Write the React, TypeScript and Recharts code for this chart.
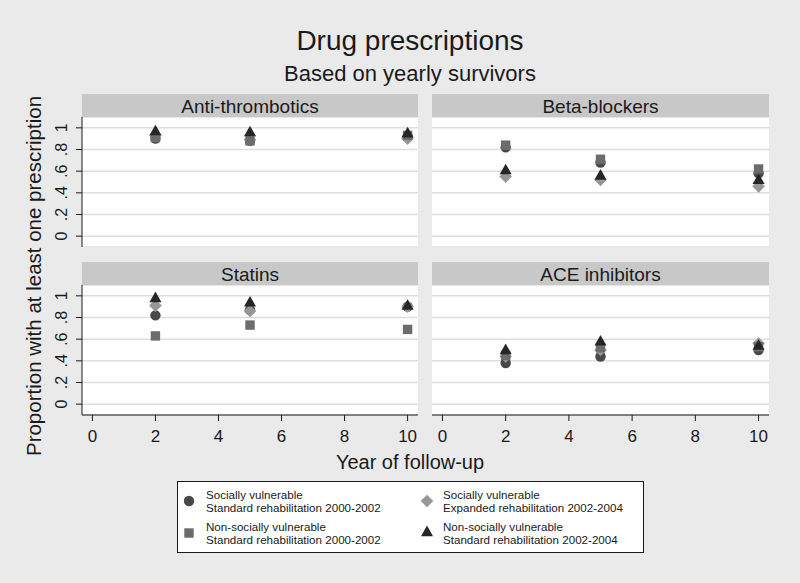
import React from "react";
import { ScatterChart, Scatter, XAxis, YAxis, CartesianGrid } from "recharts";

const YEARS = [2, 5, 10];

// order of each panel row: SV std 2000-02 (circle), NSV std 2000-02 (square),
// SV expanded 2002-04 (diamond), NSV std 2002-04 (triangle)
const antiThrombotics = [
  [0.9, 0.88, 0.92],
  [0.91, 0.88, 0.93],
  [0.93, 0.89, 0.9],
  [0.97, 0.96, 0.95],
];
const betaBlockers = [
  [0.82, 0.68, 0.58],
  [0.84, 0.71, 0.62],
  [0.55, 0.52, 0.46],
  [0.61, 0.56, 0.52],
];
const statins = [
  [0.82, 0.87, 0.9],
  [0.63, 0.73, 0.69],
  [0.91, 0.86, 0.9],
  [0.98, 0.94, 0.91],
];
const aceInhibitors = [
  [0.38, 0.44, 0.5],
  [0.45, 0.52, 0.53],
  [0.44, 0.5, 0.56],
  [0.5, 0.58, 0.54],
];

const X_TICKS = [0, 2, 4, 6, 8, 10];
const Y_TICKS = [0, 0.2, 0.4, 0.6, 0.8, 1];

const GROUPS = [
  { kind: "circle", color: "#484848", l1: "Socially vulnerable", l2: "Standard rehabilitation 2000-2002" },
  { kind: "square", color: "#6c6c6c", l1: "Non-socially vulnerable", l2: "Standard rehabilitation 2000-2002" },
  { kind: "diamond", color: "#979797", l1: "Socially vulnerable", l2: "Expanded rehabilitation 2002-2004" },
  { kind: "triangle", color: "#262626", l1: "Non-socially vulnerable", l2: "Standard rehabilitation 2002-2004" },
];
const DRAW_ORDER = [0, 2, 1, 3];

const FONT = "'Liberation Sans', Arial, Helvetica, sans-serif";
const BG = "#eaeaea";
const STRIP = "#c8c8c8";
const INK = "#1a1a1a";

function Marker({ kind, cx, cy, color }: { kind: string; cx: number; cy: number; color: string }) {
  if (cx == null || cy == null) return null;
  if (kind === "circle") return <circle cx={cx} cy={cy} r={5.2} fill={color} />;
  if (kind === "square") return <rect x={cx - 4.7} y={cy - 4.7} width={9.4} height={9.4} fill={color} />;
  if (kind === "diamond")
    return <polygon points={`${cx},${cy - 6.3} ${cx + 6.3},${cy} ${cx},${cy + 6.3} ${cx - 6.3},${cy}`} fill={color} />;
  return <polygon points={`${cx},${cy - 6.4} ${cx + 6},${cy + 4.2} ${cx - 6},${cy + 4.2}`} fill={color} />;
}

const fmtY = (v: number) => (v === 0 || v === 1 ? String(v) : String(v).replace(/^0/, ""));

function YTick(props: any) {
  const { y, payload } = props;
  const x = 67;
  return (
    <text x={x} y={y} transform={`rotate(-90 ${x} ${y})`} textAnchor="middle" fontSize={16} fill={INK}>
      {fmtY(payload.value)}
    </text>
  );
}

function Panel({
  values, left, top, width, showY, showX,
}: { values: number[][]; left: number; top: number; width: number; showY: boolean; showX: boolean }) {
  const plotH = 130;
  const height = plotH + (showX ? 45 : 0);
  return (
    <div style={{ position: "absolute", left, top }}>
      <ScatterChart width={width} height={height} margin={{ top: 0, right: 0, bottom: 0, left: 0 }}>
        <CartesianGrid vertical={false} fill="#ffffff" stroke="#dedede" strokeWidth={1.5} />
        <XAxis
          type="number"
          dataKey="x"
          domain={[-0.33, 10.33]}
          ticks={X_TICKS}
          interval={0}
          allowDataOverflow
          hide={!showX}
          height={45}
          axisLine={{ stroke: INK }}
          tickLine={{ stroke: INK }}
          tickSize={6}
          tickMargin={9}
          tick={{ fontSize: 17, fill: INK }}
        />
        <YAxis
          type="number"
          dataKey="y"
          domain={[-0.1, 1.1]}
          ticks={Y_TICKS}
          interval={0}
          allowDataOverflow
          hide={!showY}
          width={82}
          axisLine={{ stroke: INK }}
          tickLine={{ stroke: INK }}
          tickSize={6}
          tick={<YTick />}
        />
        {DRAW_ORDER.map((gi) => {
          const g = GROUPS[gi];
          const data = YEARS.map((yr, i) => ({ x: yr, y: values[gi][i] }));
          return (
            <Scatter
              key={gi}
              data={data}
              isAnimationActive={false}
              shape={(p: any) => <Marker kind={g.kind} cx={p.cx} cy={p.cy} color={g.color} />}
            />
          );
        })}
      </ScatterChart>
    </div>
  );
}

function Strip({ x, y, w, label }: { x: number; y: number; w: number; label: string }) {
  return (
    <g>
      <rect x={x} y={y} width={w} height={23} fill={STRIP} />
      <text x={x + w / 2} y={y + 12} textAnchor="middle" dominantBaseline="central" fontSize={19} fill={INK}>
        {label}
      </text>
    </g>
  );
}

export default function App() {
  const legendPos = [
    { mx: 189, my: 501, tx: 206, ty: 499 },
    { mx: 189, my: 533, tx: 206, ty: 531 },
    { mx: 427, my: 501, tx: 443, ty: 499 },
    { mx: 427, my: 532, tx: 443, ty: 531 },
  ];
  return (
    <div style={{ position: "absolute", left: 0, top: 0, width: 800, height: 583, background: BG, fontFamily: FONT }}>
      <svg width={800} height={583} style={{ position: "absolute", left: 0, top: 0 }}>
        <text x={410} y={40} textAnchor="middle" dominantBaseline="central" fontSize={28} fill={INK}>
          Drug prescriptions
        </text>
        <text x={410} y={73} textAnchor="middle" dominantBaseline="central" fontSize={22} fill={INK}>
          Based on yearly survivors
        </text>
        <text
          x={33}
          y={276}
          transform="rotate(-90 33 276)"
          textAnchor="middle"
          dominantBaseline="central"
          fontSize={20.5}
          fill={INK}
        >
          Proportion with at least one prescription
        </text>
        <text x={410} y={462} textAnchor="middle" dominantBaseline="central" fontSize={20} fill={INK}>
          Year of follow-up
        </text>
        <Strip x={82} y={94} w={336} label="Anti-thrombotics" />
        <Strip x={432} y={94} w={337} label="Beta-blockers" />
        <Strip x={82} y={262} w={336} label="Statins" />
        <Strip x={432} y={262} w={337} label="ACE inhibitors" />
        <rect x={177.5} y={481.5} width={466} height={71} fill="#ffffff" stroke={INK} strokeWidth={1} />
        {GROUPS.map((g, i) => {
          const p = legendPos[i];
          return (
            <g key={i}>
              <Marker kind={g.kind} cx={p.mx} cy={p.my} color={g.color} />
              <text x={p.tx} y={p.ty - 0.5} fontSize={11.6} fill={INK}>
                {g.l1}
              </text>
              <text x={p.tx} y={p.ty + 12.5} fontSize={11.6} fill={INK}>
                {g.l2}
              </text>
            </g>
          );
        })}
      </svg>
      <Panel values={antiThrombotics} left={0} top={117} width={418} showY showX={false} />
      <Panel values={betaBlockers} left={432} top={117} width={337} showY={false} showX={false} />
      <Panel values={statins} left={0} top={285} width={418} showY showX />
      <Panel values={aceInhibitors} left={432} top={285} width={337} showY={false} showX />
    </div>
  );
}
